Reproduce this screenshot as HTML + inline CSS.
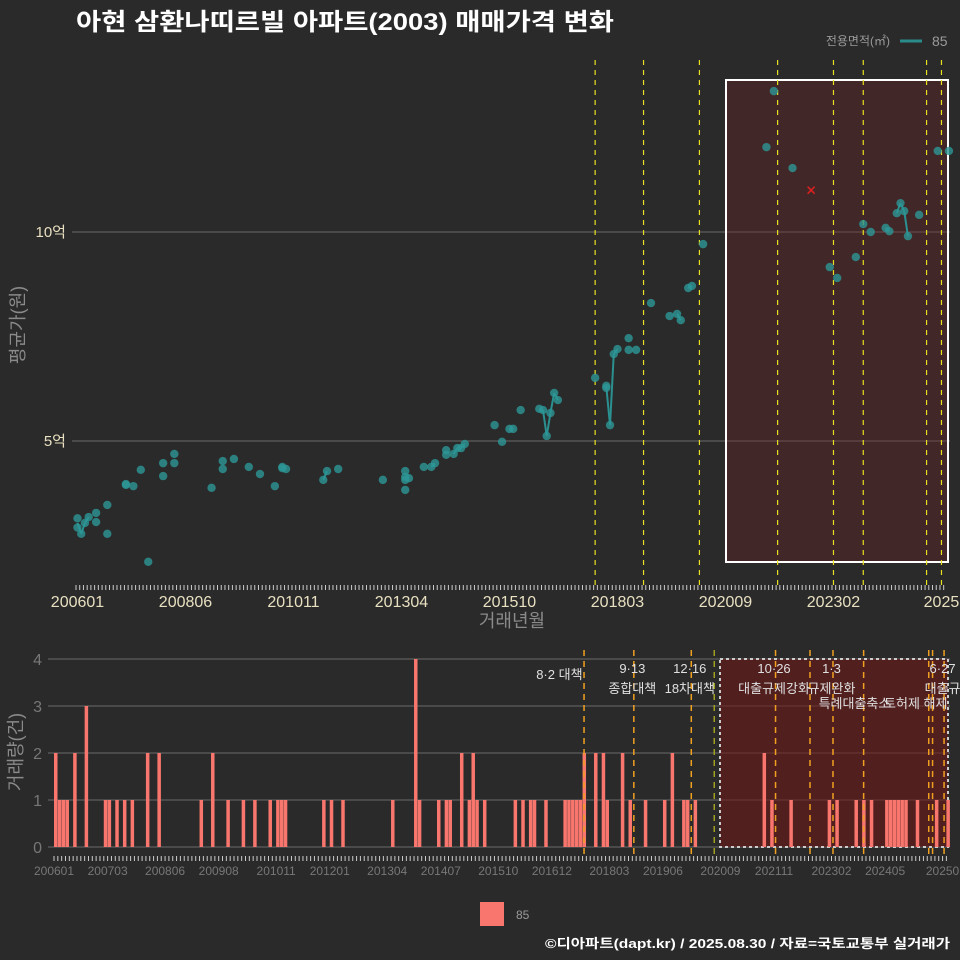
<!DOCTYPE html>
<html><head><meta charset="utf-8">
<style>
html,body{margin:0;padding:0;background:#2a2a2a;}
svg{display:block;}
text{font-family:"Liberation Sans","Noto Sans CJK KR",sans-serif;}
</style></head>
<body>
<svg id="chart" width="960" height="960" viewBox="0 0 960 960" xmlns="http://www.w3.org/2000/svg">
<rect x="0" y="0" width="960" height="960" fill="#2a2a2a"/>
<text x="76" y="30" font-size="24" font-weight="bold" fill="#ffffff" textLength="538" lengthAdjust="spacingAndGlyphs">아현 삼환나띠르빌 아파트(2003) 매매가격 변화</text>
<text x="890" y="45" font-size="12" fill="#9a9a9a" text-anchor="end">전용면적(㎡)</text>
<line x1="900" y1="41" x2="922" y2="41" stroke="#2a8b8b" stroke-width="3"/>
<text x="932" y="46" font-size="14" fill="#9a9a9a">85</text>
<g id="topg"></g>
<g id="botg"></g>
<text transform="translate(24,325) rotate(-90)" font-size="18" fill="#8a8a8a" text-anchor="middle">평균가(원)</text>
<text x="512" y="627" font-size="18" fill="#8a8a8a" text-anchor="middle">거래년월</text>
<text transform="translate(22,752) rotate(-90)" font-size="18" fill="#8a8a8a" text-anchor="middle">거래량(건)</text>
<rect x="480" y="902" width="24" height="24" fill="#f8766d"/>
<text x="516" y="919" font-size="12" fill="#9a9a9a">85</text>
<text x="950" y="948" font-size="13" font-weight="bold" fill="#ffffff" text-anchor="end" textLength="405" lengthAdjust="spacingAndGlyphs">©디아파트(dapt.kr) / 2025.08.30 / 자료=국토교통부 실거래가</text>
</svg>
<script>
// month index from 200601
const priceMonths=[0,0,1,2,3,5,5,8,8,13,13,15,17,19,23,23,26,26,36,39,39,42,46,49,53,55,55,56,66,67,70,82,88,88,88,89,88,93,95,96,99,99,101,102,103,104,112,114,116,117,119,124,125,126,127,128,129,139,142,142,143,144,145,148,148,150,154,159,161,162,164,165,168,185,187,192,202,204,209,211,213,217,218,220,221,222,223,226,231,234];
const priceValues=[3.15,2.93,2.78,3.04,3.18,3.28,3.06,3.47,2.78,3.97,3.95,3.92,4.31,2.11,4.47,4.16,4.69,4.47,3.88,4.52,4.33,4.57,4.38,4.21,3.92,4.38,4.35,4.33,4.07,4.28,4.33,4.07,4.28,4.14,4.07,4.11,3.83,4.38,4.38,4.47,4.78,4.67,4.69,4.83,4.83,4.93,5.38,4.98,5.29,5.29,5.74,5.77,5.74,5.12,5.67,6.15,5.98,6.51,6.32,6.27,5.38,7.08,7.20,7.46,7.18,7.18,8.30,7.99,8.04,7.89,8.66,8.71,9.71,12.03,13.37,11.53,9.16,8.90,9.40,10.19,10.00,10.10,10.02,10.45,10.69,10.50,9.90,10.41,11.94,11.94];
const cancelMonths=[197];
const cancelValues=[11.0];
const priceTicks=[5,10];
const priceTickLabels=["5억","10억"];
const xTickMonths=[0,29,58,87,116,145,174,203,232];
const xTickLabels=["200601","200806","201011","201304","201510","201803","202009","202302","2025"];
const topPolicyMonths=[139,152,167,188,203,211,228,232];
const volMonths=[0,1,2,3,5,8,13,14,16,18,20,24,27,38,41,45,49,52,56,58,59,60,70,72,75,88,94,95,100,102,103,106,108,109,110,112,120,122,124,125,128,133,134,135,136,137,138,141,143,144,148,150,154,159,161,164,165,167,185,187,192,202,204,209,211,213,217,218,219,220,221,222,225,230,233];
const volCounts=[2,1,1,1,2,3,1,1,1,1,1,2,2,1,2,1,1,1,1,1,1,1,1,1,1,1,4,1,1,1,1,2,1,2,1,1,1,1,1,1,1,1,1,1,1,1,2,2,2,1,2,1,1,1,2,1,1,1,2,1,1,1,1,1,1,1,1,1,1,1,1,1,1,1,1];
const volTicks=[0,1,2,3,4];
const volTickMonths=[0,14,29,43,58,72,87,101,116,130,145,159,174,188,203,217,232];
const volTickLabels=["200601","200703","200806","200908","201011","201201","201304","201407","201510","201612","201803","201906","202009","202111","202302","202405","20250"];
const botPolicyMonths=[138,151,166,172,188,197,203,211,228,229,232];
const annoMonths=[138,151,151,166,166,188,188,203,203,209,225,232,232];
const annoRows=[0.3,0,1,0,1,0,1,0,1,1.75,1.75,0,1];
const annoLabels=["8·2 대책","9·13","종합대책","12·16","18차대책","10·26","대출규제강화","1·3","규제완화","특례대출축소","토허제 해제","6·27","대출규"];

const NS="http://www.w3.org/2000/svg";
function mk(parent,tag,attrs){const el=document.createElementNS(NS,tag);for(const k in attrs)el.setAttribute(k,attrs[k]);parent.appendChild(el);return el;}
const xT=m=>77.5+m*3.724;
const yT=v=>441-(v-5)*41.8;
const xB=m=>54+m*3.83;
const yB=c=>847-c*47;
const topG=document.getElementById('topg'), botG=document.getElementById('botg');

let e;
priceTicks.forEach((t,i)=>{
 e=mk(topG,'line',{x1:72,x2:950,y1:yT(t),y2:yT(t),stroke:'#6a6a6a','stroke-width':1});
 
 
 e=mk(topG,'text',{x:66,y:yT(t)+5,'font-size':15,fill:'#e8e0c0','text-anchor':'end'});e.textContent=priceTickLabels[i];
 
 
});
e=mk(topG,'rect',{x:726,y:80,width:222,height:482,fill:'rgba(110,35,35,0.35)',stroke:'#ffffff','stroke-width':2});


topPolicyMonths.forEach(m=>{
 e=mk(topG,'line',{x1:xT(m),x2:xT(m),y1:60,y2:590,stroke:'#e8e020','stroke-width':1.2,'stroke-dasharray':'5,5'});
 
 
});
for(let m=0;m<=233;m++){
 e=mk(topG,'line',{x1:xT(m)-1.5,x2:xT(m)-1.5,y1:585,y2:590,stroke:'#cccccc','stroke-width':1});
 
 
}
xTickLabels.forEach((l,i)=>{
 e=mk(topG,'text',{x:xT(xTickMonths[i]),y:607,'font-size':16,fill:'#e8e0c0','text-anchor':'middle'});e.textContent=l;
 
 
});
const byM={};priceMonths.forEach((m,i)=>{(byM[m]=byM[m]||[]).push(priceValues[i]);});
const ms=Object.keys(byM).map(Number).sort((a,b)=>a-b);
for(let i=1;i<ms.length;i++){
 if(ms[i]-ms[i-1]===1){
  const a=byM[ms[i-1]],b=byM[ms[i]];
  const va=a.reduce((s,v)=>s+v,0)/a.length, vb=b.reduce((s,v)=>s+v,0)/b.length;
  e=mk(topG,'line',{x1:xT(ms[i-1]),y1:yT(va),x2:xT(ms[i]),y2:yT(vb),stroke:'#2a9090','stroke-width':2});
  
  
 }
}
priceMonths.forEach((m,i)=>{
 e=mk(topG,'circle',{cx:xT(m),cy:yT(priceValues[i]),r:4.2,fill:'rgba(45,150,150,0.8)'});
 
 
});
cancelMonths.forEach((m,i)=>{
 const cx=xT(m),cy=yT(cancelValues[i]);
 e=mk(topG,'path',{d:`M${cx-3.5},${cy-3.5}L${cx+3.5},${cy+3.5}M${cx-3.5},${cy+3.5}L${cx+3.5},${cy-3.5}`,stroke:'#e02020','stroke-width':1.5});
 
 
});

volTicks.forEach(t=>{
 e=mk(botG,'line',{x1:48,x2:950,y1:yB(t),y2:yB(t),stroke:'#6a6a6a','stroke-width':1});
 
 
 e=mk(botG,'text',{x:42,y:yB(t)+6,'font-size':16,fill:'#777777','text-anchor':'end'});e.textContent=t;
 
 
});
e=mk(botG,'rect',{x:720,y:659,width:228,height:188,fill:'rgba(110,25,25,0.6)',stroke:'#cccccc','stroke-width':2,'stroke-dasharray':'3,3'});


volMonths.forEach((m,i)=>{
 e=mk(botG,'rect',{x:xB(m),y:yB(volCounts[i]),width:3.5,height:volCounts[i]*47,fill:'#f8766d'});
 
 
});
botPolicyMonths.forEach((m,i)=>{
 e=mk(botG,'line',{x1:xB(m)+1.5,x2:xB(m)+1.5,y1:650,y2:858,stroke:i===3?'#a0a020':'#f0a020','stroke-width':1.5,'stroke-dasharray':'6,5'});
 
 
});
for(let m=0;m<=233;m++){
 e=mk(botG,'line',{x1:xB(m),x2:xB(m),y1:856,y2:861,stroke:'#cccccc','stroke-width':1});
 
 
}
volTickLabels.forEach((l,i)=>{
 e=mk(botG,'text',{x:xB(volTickMonths[i]),y:875,'font-size':12,fill:'#777777','text-anchor':'middle'});e.textContent=l;
 
 
});
annoLabels.forEach((l,i)=>{
 e=mk(botG,'text',{x:xB(annoMonths[i]),y:673+annoRows[i]*20,'font-size':13,fill:'#e0e0e0','text-anchor':i===0?'end':'middle'});e.textContent=l;
 
 
});
</script>
</body></html>
